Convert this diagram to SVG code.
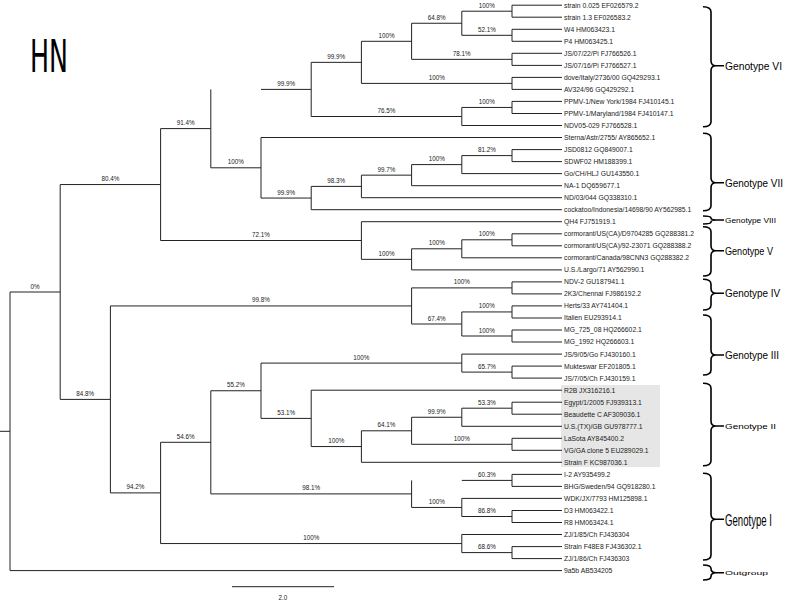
<svg xmlns="http://www.w3.org/2000/svg" width="787" height="604" viewBox="0 0 787 604">
<style>
.t{fill:none;stroke:#222;stroke-width:1}
.lf{font-family:"Liberation Sans",Arial,sans-serif;font-size:6.8px;fill:#222}
.bs{font-family:"Liberation Sans",Arial,sans-serif;font-size:6.3px;fill:#222;text-anchor:middle}
.br{fill:none;stroke:#000;stroke-width:1.6}
.gt{font-family:"Liberation Sans",Arial,sans-serif;fill:#000}
</style>
<rect width="787" height="604" fill="#fff"/>
<text x="30" y="72.3" fill="#000" font-family="DejaVu Sans, Liberation Sans, sans-serif" font-size="44" textLength="38" lengthAdjust="spacingAndGlyphs">HN</text>
<rect x="561" y="385" width="99" height="82" fill="#e6e6e6"/>
<g id="connectors">
<path class="t" d="M461.8,11.2H512M512,5.2V17.2M461.8,35.3H512M512,29.3V41.3M411.6,23.25H461.8M461.8,11.2V35.3M411.6,59.35H512M512,53.3V65.4M361.4,41.3H411.6M411.6,23.25V59.35M361.4,83.4H512M512,77.4V89.4M311.2,62.35H361.4M361.4,41.3V83.4M461.8,107.45H512M512,101.4V113.5M311.2,116.5H461.8M461.8,107.45V125.5M261,89.4H311.2M311.2,62.35V116.5M461.8,155.6H512M512,149.6V161.6M411.6,164.6H461.8M461.8,155.6V173.6M361.4,175.15H411.6M411.6,164.6V185.7M311.2,186.4H361.4M361.4,175.15V197.7M261,198.05H311.2M311.2,186.4V209.7M210.8,167.8H261M261,137.5V198.05M160.6,128.6H210.8M210.8,89.4V167.8M461.8,239.8H512M512,233.8V245.8M411.6,248.8H461.8M461.8,239.8V257.8M361.4,259.35H411.6M411.6,248.8V269.9M160.6,240.5H361.4M361.4,221.7V259.35M60.2,184.55H160.6M160.6,128.6V240.5M411.6,287.9H512M512,281.9V293.9M461.8,311.95H512M512,305.9V318M461.8,336H512M512,330V342M411.6,324H461.8M461.8,311.95V336M110.4,305.95H411.6M411.6,287.9V324M461.8,372.1H512M512,366.1V378.1M261,363.1H461.8M461.8,354.1V372.1M461.8,408.2H512M512,402.2V414.2M411.6,417.25H461.8M461.8,408.2V426.3M411.6,444.3H512M512,438.3V450.3M361.4,430.8H411.6M411.6,417.25V444.3M311.2,446.55H361.4M361.4,430.8V462.3M261,418.4H311.2M311.2,390.2V446.55M210.8,390.75H261M261,363.1V418.4M461.8,480.4H512M512,474.4V486.4M461.8,516.5H512M512,510.5V522.5M411.6,507.45H461.8M461.8,498.4V516.5M210.8,493.9H411.6M411.6,480.4V507.45M160.6,442.3H210.8M210.8,390.75V493.9M461.8,552.6H512M512,546.6V558.6M160.6,543.55H461.8M461.8,534.5V552.6M110.4,492.9H160.6M160.6,442.3V543.55M60.2,399.4H110.4M110.4,305.95V492.9M10,292H60.2M60.2,184.55V399.4M0,431.3H10M10,292V570.6"/>
<path class="t" d="M512,5.2H562M512,17.2H562M512,29.3H562M512,41.3H562M512,53.3H562M512,65.4H562M512,77.4H562M512,89.4H562M512,101.4H562M512,113.5H562M461.8,125.5H562M261,137.5H562M512,149.6H562M512,161.6H562M461.8,173.6H562M411.6,185.7H562M361.4,197.7H562M311.2,209.7H562M361.4,221.7H562M512,233.8H562M512,245.8H562M461.8,257.8H562M411.6,269.9H562M512,281.9H562M512,293.9H562M512,305.9H562M512,318H562M512,330H562M512,342H562M461.8,354.1H562M512,366.1H562M512,378.1H562M311.2,390.2H562M512,402.2H562M512,414.2H562M461.8,426.3H562M512,438.3H562M512,450.3H562M361.4,462.3H562M512,474.4H562M512,486.4H562M461.8,498.4H562M512,510.5H562M512,522.5H562M461.8,534.5H562M512,546.6H562M512,558.6H562M10,570.6H562"/>
<g class="bs">
<text x="486.9" y="7.7">100%</text>
<text x="486.9" y="31.8">52.1%</text>
<text x="436.7" y="19.75">64.8%</text>
<text x="461.8" y="55.85">78.1%</text>
<text x="386.5" y="37.8">100%</text>
<text x="436.7" y="79.9">100%</text>
<text x="336.3" y="58.85">99.9%</text>
<text x="486.9" y="103.95">100%</text>
<text x="386.5" y="113">76.5%</text>
<text x="286.1" y="85.9">99.9%</text>
<text x="486.9" y="152.1">81.2%</text>
<text x="436.7" y="161.1">100%</text>
<text x="386.5" y="171.65">99.7%</text>
<text x="336.3" y="182.9">98.3%</text>
<text x="286.1" y="194.55">99.9%</text>
<text x="235.9" y="164.3">100%</text>
<text x="185.7" y="125.1">91.4%</text>
<text x="486.9" y="236.3">100%</text>
<text x="436.7" y="245.3">100%</text>
<text x="386.5" y="255.85">100%</text>
<text x="261" y="237">72.1%</text>
<text x="110.4" y="181.05">80.4%</text>
<text x="461.8" y="284.4">100%</text>
<text x="486.9" y="308.45">100%</text>
<text x="486.9" y="332.5">100%</text>
<text x="436.7" y="320.5">67.4%</text>
<text x="261" y="302.45">99.8%</text>
<text x="486.9" y="368.6">65.7%</text>
<text x="361.4" y="359.6">100%</text>
<text x="486.9" y="404.7">53.3%</text>
<text x="436.7" y="413.75">99.9%</text>
<text x="461.8" y="440.8">100%</text>
<text x="386.5" y="427.3">64.1%</text>
<text x="336.3" y="443.05">100%</text>
<text x="286.1" y="414.9">53.1%</text>
<text x="235.9" y="387.25">55.2%</text>
<text x="486.9" y="476.9">60.3%</text>
<text x="486.9" y="513">86.8%</text>
<text x="436.7" y="503.95">100%</text>
<text x="311.2" y="490.4">98.1%</text>
<text x="185.7" y="438.8">54.6%</text>
<text x="486.9" y="549.1">68.6%</text>
<text x="311.2" y="540.05">100%</text>
<text x="135.5" y="489.4">94.2%</text>
<text x="85.3" y="395.9">84.8%</text>
<text x="35.1" y="288.5">0%</text>
</g>
</g>
<g class="lf">
<text id="leaf1" x="564" y="7.6">strain 0.025 EF026579.2</text>
<text id="leaf2" x="564" y="19.6">strain 1.3 EF026583.2</text>
<text id="leaf3" x="564" y="31.7">W4 HM063423.1</text>
<text id="leaf4" x="564" y="43.7">P4 HM063425.1</text>
<text id="leaf5" x="564" y="55.7">JS/07/22/Pi  FJ766526.1</text>
<text id="leaf6" x="564" y="67.8">JS/07/16/Pi FJ766527.1</text>
<text id="leaf7" x="564" y="79.8">dove/Italy/2736/00 GQ429293.1</text>
<text id="leaf8" x="564" y="91.8">AV324/96 GQ429292.1</text>
<text id="leaf9" x="564" y="103.8">PPMV-1/New York/1984 FJ410145.1</text>
<text id="leaf10" x="564" y="115.9">PPMV-1/Maryland/1984 FJ410147.1</text>
<text id="leaf11" x="564" y="127.9">NDV05-029  FJ766528.1</text>
<text id="leaf12" x="564" y="139.9">Sterna/Astr/2755/ AY865652.1</text>
<text id="leaf13" x="564" y="152">JSD0812 GQ849007.1</text>
<text id="leaf14" x="564" y="164">SDWF02 HM188399.1</text>
<text id="leaf15" x="564" y="176">Go/CH/HLJ GU143550.1</text>
<text id="leaf16" x="564" y="188.1">NA-1 DQ659677.1</text>
<text id="leaf17" x="564" y="200.1">ND/03/044 GQ338310.1</text>
<text id="leaf18" x="564" y="212.1">cockatoo/Indonesia/14698/90 AY562985.1</text>
<text id="leaf19" x="564" y="224.1">QH4  FJ751919.1</text>
<text id="leaf20" x="564" y="236.2">cormorant/US(CA)/D9704285 GQ288381.2</text>
<text id="leaf21" x="564" y="248.2">cormorant/US(CA)/92-23071 GQ288388.2</text>
<text id="leaf22" x="564" y="260.2">cormorant/Canada/98CNN3 GQ288382.2</text>
<text id="leaf23" x="564" y="272.3">U.S./Largo/71 AY562990.1</text>
<text id="leaf24" x="564" y="284.3">NDV-2 GU187941.1</text>
<text id="leaf25" x="564" y="296.3">2K3/Chennai  FJ986192.2</text>
<text id="leaf26" x="564" y="308.3">Herts/33 AY741404.1</text>
<text id="leaf27" x="564" y="320.4">Italien EU293914.1</text>
<text id="leaf28" x="564" y="332.4">MG_725_08 HQ266602.1</text>
<text id="leaf29" x="564" y="344.4">MG_1992 HQ266603.1</text>
<text id="leaf30" x="564" y="356.5">JS/9/05/Go  FJ430160.1</text>
<text id="leaf31" x="564" y="368.5">Mukteswar EF201805.1</text>
<text id="leaf32" x="564" y="380.5">JS/7/05/Ch FJ430159.1</text>
<text id="leaf33" x="564" y="392.6">R2B JX316216.1</text>
<text id="leaf34" x="564" y="404.6">Egypt/1/2005 FJ939313.1</text>
<text id="leaf35" x="564" y="416.6">Beaudette C AF309036.1</text>
<text id="leaf36" x="564" y="428.7">U.S.(TX)/GB GU978777.1</text>
<text id="leaf37" x="564" y="440.7">LaSota AY845400.2</text>
<text id="leaf38" x="564" y="452.7">VG/GA clone 5 EU289029.1</text>
<text id="leaf39" x="564" y="464.7">Strain F KC987036.1</text>
<text id="leaf40" x="564" y="476.8">I-2 AY935499.2</text>
<text id="leaf41" x="564" y="488.8">BHG/Sweden/94 GQ918280.1</text>
<text id="leaf42" x="564" y="500.8">WDK/JX/7793 HM125898.1</text>
<text id="leaf43" x="564" y="512.9">D3 HM063422.1</text>
<text id="leaf44" x="564" y="524.9">R8 HM063424.1</text>
<text id="leaf45" x="564" y="536.9">ZJ/1/85/Ch FJ436304</text>
<text id="leaf46" x="564" y="549">Strain F48E8 FJ436302.1</text>
<text id="leaf47" x="564" y="561">ZJ/1/86/Ch FJ436303</text>
<text id="leaf48" x="564" y="573">9a5b AB534205</text>
</g>
<g id="genotype-VI"><path class="br" d="M703,6.7Q711,6.7 711,12V60.7Q711,65.7 716,65.7Q711,65.7 711,70.7V121.7Q711,126.7 703,126.7M716,65.7H724"/><text class="gt" x="725" y="69.5" font-size="10" textLength="57" lengthAdjust="spacingAndGlyphs">Genotype VI</text></g>
<g id="genotype-VII"><path class="br" d="M703,133.3Q711,133.3 711,138.3V177.7Q711,182.7 716,182.7Q711,182.7 711,187.7V205.7Q711,210.7 703,210.7M716,182.7H724"/><text class="gt" x="725" y="186.5" font-size="10" textLength="58" lengthAdjust="spacingAndGlyphs">Genotype VII</text></g>
<g id="genotype-VIII"><path class="br" d="M703,216Q711,216 711,218Q711,220 716,220Q711,220 711,222Q711,224 703,224M716,220H724"/><text class="gt" x="725" y="222.5" font-size="7" textLength="51" lengthAdjust="spacingAndGlyphs">Genotype VIII</text></g>
<g id="genotype-V"><path class="br" d="M703,226.7Q711,226.7 711,231.7V245.7Q711,250.7 716,250.7Q711,250.7 711,255.7V271Q711,276 703,276M716,250.7H724"/><text class="gt" x="725" y="254.5" font-size="10" textLength="48" lengthAdjust="spacingAndGlyphs">Genotype V</text></g>
<g id="genotype-IV"><path class="br" d="M703,279.3Q711,279.3 711,284.3V288.3Q711,293.3 716,293.3Q711,293.3 711,298.3V305Q711,310 703,310M716,293.3H724"/><text class="gt" x="725" y="297" font-size="10" textLength="55" lengthAdjust="spacingAndGlyphs">Genotype IV</text></g>
<g id="genotype-III"><path class="br" d="M703,315Q711,315 711,320V350Q711,355 716,355Q711,355 711,360V370Q711,375 703,375M716,355H724"/><text class="gt" x="725" y="358.7" font-size="10" textLength="54" lengthAdjust="spacingAndGlyphs">Genotype III</text></g>
<g id="genotype-II"><path class="br" d="M703,383.3Q711,383.3 711,388.3V421Q711,426 716,426Q711,426 711,431V460.7Q711,465.7 703,465.7M716,426H724"/><text class="gt" x="725" y="428.8" font-size="7.5" textLength="51" lengthAdjust="spacingAndGlyphs">Genotype II</text></g>
<g id="genotype-I"><path class="br" d="M703,473.3Q711,473.3 711,478.3V514.3Q711,519.3 716,519.3Q711,519.3 711,524.3V555Q711,560 703,560M716,519.3H724"/><text class="gt" transform="translate(725,525.5) scale(0.565,1)" x="0" y="0" font-size="17">Genotype I</text></g>
<g id="outgroup"><path class="br" d="M703,565Q711,565 711,568.5Q711,572.7 716,572.7Q711,572.7 711,576.5Q711,580 703,580M716,572.7H724"/><text class="gt" x="725" y="574.8" font-size="6" textLength="43" lengthAdjust="spacingAndGlyphs">Outgroup</text></g>
<g id="scale-bar"><path class="t" d="M232,586.7H334"/><text class="bs" x="283" y="600" font-size="8">2.0</text></g>
</svg>
